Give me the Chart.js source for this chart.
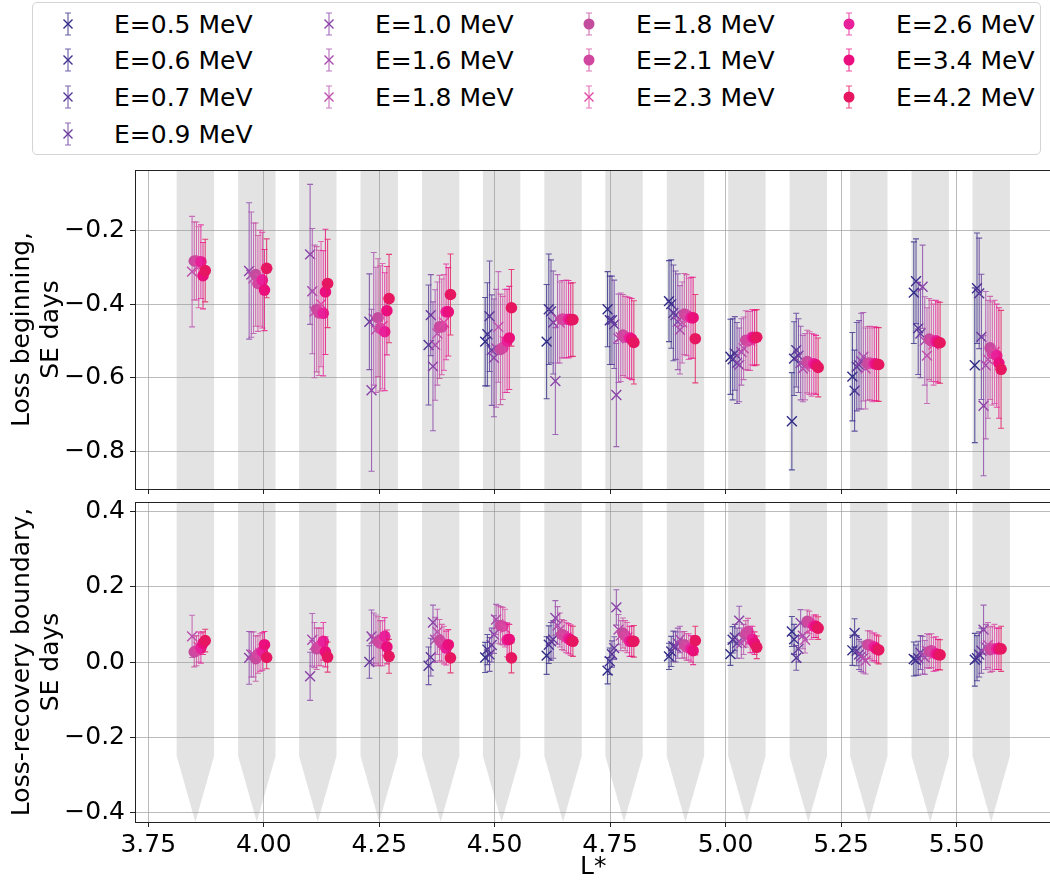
<!DOCTYPE html>
<html><head><meta charset="utf-8">
<script src="https://cdn.jsdelivr.net/npm/chart.js@4.4.1/dist/chart.umd.min.js"></script>
<style>
html,body{margin:0;padding:0;background:#fff;overflow:hidden;width:1050px;height:882px;}
#legend{position:absolute;left:32px;top:2px;width:1009px;height:153px;border:1px solid #d4d4d4;border-radius:5px;box-sizing:border-box;font-family:"DejaVu Sans";font-size:25px;color:#000;background:#fff;}
.lt{position:absolute;line-height:25px;white-space:nowrap;}
.lm{position:absolute;}
canvas{position:absolute;}
</style></head>
<body>
<div id="legend"></div>
<canvas id="cTop" width="1060" height="350" style="left:0;top:150px;"></canvas>
<canvas id="cBot" width="1060" height="392" style="left:0;top:490px;"></canvas>
<script>
const N = null;
// L* bin centres and tick labels
const lBins = [3.852, 3.985, 4.117, 4.25, 4.383, 4.515, 4.648, 4.78, 4.913, 5.046, 5.179, 5.31, 5.443, 5.575];
const xTickValues = [3.75, 4.00, 4.25, 4.50, 4.75, 5.00, 5.25, 5.50];
const xTickLabels = ['3.75', '4.00', '4.25', '4.50', '4.75', '5.00', '5.25', '5.50'];
const topTickValues = [-0.8, -0.6, -0.4, -0.2];
const topTickLabels = ['\u22120.8', '\u22120.6', '\u22120.4', '\u22120.2'];
const botTickValues = [-0.4, -0.2, 0.0, 0.2, 0.4];
const botTickLabels = ['\u22120.4', '\u22120.2', '0.0', '0.2', '0.4'];

// series
const seriesLabels = ['E=0.5 MeV','E=0.6 MeV','E=0.7 MeV','E=0.9 MeV','E=1.0 MeV','E=1.6 MeV','E=1.8 MeV','E=1.8 MeV','E=2.1 MeV','E=2.3 MeV','E=2.6 MeV','E=3.4 MeV','E=4.2 MeV'];
const seriesMarkers = ['x','x','x','x','x','x','x','o','o','x','o','o','o'];
const seriesColors = ['#2f2a86','#3f2f8f','#543596','#683a9e','#8a43a8','#a64aad','#bd4fae','#c44c9e','#d1479f','#de4aa6','#e8209a','#ea0e7f','#e61660'];
const seriesOffset = [-0.0356,-0.0308,-0.0261,-0.0213,-0.0166,-0.0119,-0.0071,-0.0024,0.0024,0.0071,0.0119,0.0166,0.0213];

// Loss beginning (SE days) and errors
const beginE05 = [N,N,N,N,N,-0.502,-0.502,-0.414,-0.392,-0.543,-0.718,-0.597,-0.369,-0.566];
const beginErrE05 = [N,N,N,N,N,0.12,0.155,0.102,0.11,0.102,0.132,0.12,0.138,0.21];
const beginE06 = [N,N,N,N,N,-0.482,-0.414,-0.444,-0.40,-0.55,-0.548,-0.635,-0.338,-0.357];
const beginErrE06 = [N,N,N,N,N,0.14,0.15,0.12,0.12,0.11,0.10,0.11,0.115,0.15];
const beginE07 = [N,N,N,N,-0.511,-0.433,-0.42,-0.444,-0.424,-0.534,-0.525,-0.57,-0.466,-0.371];
const beginErrE07 = [N,N,N,N,0.163,0.15,0.14,0.12,0.13,0.10,0.10,0.12,0.125,0.15];
const beginE09 = [N,N,N,-0.448,-0.43,-0.525,-0.45,-0.455,-0.43,-0.56,-0.54,-0.565,-0.48,-0.489];
const beginErrE09 = [N,N,N,0.13,0.11,0.15,0.14,0.12,0.12,0.11,0.10,0.12,0.12,0.17];
const beginE10 = [N,-0.31,-0.265,-0.634,-0.569,-0.546,-0.609,-0.647,-0.448,-0.565,-0.56,-0.555,-0.353,-0.676];
const beginErrE10 = [N,0.185,0.19,0.22,0.175,0.16,0.145,0.14,0.13,0.10,0.10,0.13,0.113,0.19];
const beginE16 = [N,-0.32,-0.365,-0.44,-0.511,-0.52,-0.44,-0.493,-0.47,-0.53,-0.575,-0.543,-0.50,-0.566];
const beginErrE16 = [N,0.17,0.17,0.18,0.15,0.16,0.12,0.12,0.12,0.09,0.09,0.12,0.12,0.2];
const beginE18x = [-0.312,-0.33,-0.42,-0.47,-0.48,-0.462,-0.45,-0.49,-0.45,-0.52,-0.57,-0.575,-0.54,-0.55];
const beginErrE18x = [0.15,0.15,0.18,0.17,0.14,0.15,0.11,0.12,0.11,0.085,0.09,0.11,0.13,0.16];
const beginE18 = [-0.283,-0.32,-0.414,-0.437,-0.462,-0.523,-0.441,-0.484,-0.427,-0.498,-0.556,-0.561,-0.495,-0.519];
const beginErrE18 = [0.106,0.14,0.17,0.16,0.14,0.15,0.105,0.11,0.11,0.08,0.085,0.1,0.11,0.14];
const beginE21 = [-0.283,-0.344,-0.424,-0.466,-0.462,-0.519,-0.441,-0.489,-0.43,-0.50,-0.56,-0.56,-0.50,-0.534];
const beginErrE21 = [0.106,0.13,0.17,0.17,0.13,0.14,0.105,0.11,0.11,0.08,0.085,0.1,0.11,0.14];
const beginE23 = [-0.30,-0.33,-0.40,-0.46,-0.45,-0.50,-0.44,-0.49,-0.44,-0.50,-0.565,-0.565,-0.51,-0.53];
const beginErrE23 = [0.11,0.13,0.17,0.17,0.13,0.14,0.105,0.11,0.11,0.08,0.085,0.1,0.11,0.14];
const beginE26 = [-0.285,-0.335,-0.425,-0.475,-0.421,-0.50,-0.441,-0.492,-0.437,-0.49,-0.562,-0.562,-0.50,-0.54];
const beginErrE26 = [0.10,0.13,0.17,0.16,0.13,0.14,0.105,0.11,0.11,0.075,0.08,0.1,0.11,0.14];
const beginE34 = [-0.323,-0.362,-0.367,-0.418,-0.421,-0.492,-0.443,-0.495,-0.437,-0.492,-0.565,-0.563,-0.504,-0.56];
const beginErrE34 = [0.09,0.11,0.17,0.12,0.12,0.14,0.1,0.11,0.11,0.075,0.08,0.1,0.11,0.15];
const beginE42 = [-0.309,-0.303,-0.344,-0.385,-0.374,-0.41,-0.442,-0.504,-0.494,-0.49,-0.572,-0.564,-0.505,-0.577];
const beginErrE42 = [0.085,0.08,0.12,0.12,0.11,0.104,0.1,0.113,0.12,0.075,0.08,0.1,0.11,0.16];

// Loss-recovery boundary (SE days) and errors
const boundE05 = [N,N,N,N,N,0.012,0.017,-0.023,0.015,0.021,0.081,0.031,0.008,0.006];
const boundErrE05 = [N,N,N,N,N,0.04,0.05,0.035,0.035,0.03,0.04,0.04,0.045,0.07];
const boundE06 = [N,N,N,N,N,0.033,0.046,0.002,0.028,0.059,0.06,0.077,0.005,0.01];
const boundErrE06 = [N,N,N,N,N,0.04,0.05,0.035,0.04,0.035,0.04,0.038,0.04,0.06];
const boundE07 = [N,N,N,N,-0.01,0.02,0.055,0.021,0.042,0.065,0.011,0.03,0.01,0.02];
const boundErrE07 = [N,N,N,N,0.05,0.045,0.05,0.035,0.04,0.035,0.033,0.04,0.045,0.06];
const boundE09 = [N,N,N,0.0,0.013,0.045,0.06,0.037,0.04,0.05,0.035,0.02,0.025,0.03];
const boundErrE09 = [N,N,N,0.043,0.05,0.045,0.05,0.03,0.04,0.04,0.035,0.04,0.045,0.06];
const boundE10 = [N,0.011,-0.038,0.068,0.105,0.073,0.117,0.145,0.05,0.11,0.104,0.015,0.018,0.086];
const boundErrE10 = [N,0.07,0.064,0.07,0.046,0.05,0.046,0.047,0.04,0.038,0.035,0.04,0.05,0.065];
const boundE16 = [N,0.02,0.059,0.06,0.059,0.113,0.097,0.086,0.06,0.05,0.07,0.011,0.012,0.04];
const boundErrE16 = [N,0.06,0.07,0.07,0.06,0.04,0.05,0.04,0.035,0.04,0.035,0.04,0.045,0.06];
const boundE18x = [0.068,0.02,0.045,0.06,0.08,0.1,0.085,0.07,0.045,0.06,0.059,0.003,0.03,0.045];
const boundErrE18x = [0.056,0.06,0.06,0.065,0.06,0.05,0.045,0.04,0.035,0.04,0.035,0.035,0.045,0.06];
const boundE18 = [0.027,0.009,0.035,0.055,0.058,0.097,0.073,0.077,0.046,0.075,0.108,0.046,0.028,0.033];
const boundErrE18 = [0.04,0.06,0.055,0.065,0.055,0.05,0.04,0.04,0.035,0.035,0.03,0.037,0.045,0.06];
const boundE21 = [0.03,0.02,0.04,0.05,0.05,0.095,0.07,0.07,0.04,0.081,0.105,0.045,0.03,0.035];
const boundErrE21 = [0.04,0.05,0.05,0.06,0.05,0.05,0.04,0.04,0.035,0.035,0.03,0.037,0.045,0.06];
const boundE23 = [0.04,0.025,0.04,0.05,0.045,0.09,0.065,0.065,0.04,0.06,0.09,0.04,0.02,0.04];
const boundErrE23 = [0.04,0.05,0.05,0.06,0.05,0.05,0.04,0.04,0.035,0.035,0.03,0.037,0.045,0.06];
const boundE26 = [0.037,0.028,0.055,0.068,0.037,0.059,0.062,0.055,0.035,0.06,0.095,0.04,0.022,0.035];
const boundErrE26 = [0.04,0.05,0.05,0.05,0.045,0.045,0.04,0.04,0.035,0.035,0.03,0.037,0.045,0.055];
const boundE34 = [0.05,0.046,0.027,0.04,0.046,0.06,0.058,0.055,0.03,0.05,0.095,0.035,0.02,0.035];
const boundErrE34 = [0.03,0.035,0.04,0.045,0.04,0.04,0.04,0.04,0.037,0.03,0.03,0.037,0.04,0.055];
const boundE42 = [0.057,0.012,0.013,0.015,0.011,0.011,0.055,0.055,0.057,0.039,0.09,0.032,0.019,0.035];
const boundErrE42 = [0.03,0.03,0.04,0.045,0.04,0.04,0.04,0.042,0.038,0.03,0.03,0.037,0.04,0.06];

const beginValues = [beginE05,beginE06,beginE07,beginE09,beginE10,beginE16,beginE18x,beginE18,beginE21,beginE23,beginE26,beginE34,beginE42];
const beginErrors = [beginErrE05,beginErrE06,beginErrE07,beginErrE09,beginErrE10,beginErrE16,beginErrE18x,beginErrE18,beginErrE21,beginErrE23,beginErrE26,beginErrE34,beginErrE42];
const boundValues = [boundE05,boundE06,boundE07,boundE09,boundE10,boundE16,boundE18x,boundE18,boundE21,boundE23,boundE26,boundE34,boundE42];
const boundErrors = [boundErrE05,boundErrE06,boundErrE07,boundErrE09,boundErrE10,boundErrE16,boundErrE18x,boundErrE18,boundErrE21,boundErrE23,boundErrE26,boundErrE34,boundErrE42];

// shaded L* bins
const bandHalfWidth = 0.0405;
const arrowStart = -0.25;
const arrowTip = -0.425;

function rgba(hex, a) {
  const n = parseInt(hex.slice(1), 16);
  return `rgba(${(n>>16)&255},${(n>>8)&255},${n&255},${a})`;
}

// ---- legend (HTML) ----
const legend = document.getElementById('legend');
const colCount = [4,3,3,3];
const colMarkX = [35, 296, 556, 816];
const colTextX = [81, 342, 603, 863];
const rowY = [20.5, 57.2, 93.8, 130.5];
let si = 0;
colCount.forEach((cnt, c) => {
  for (let r = 0; r < cnt; r++, si++) {
    const col = seriesColors[si];
    const bar = rgba(col, 0.75);
    const svgNS = 'http://www.w3.org/2000/svg';
    const svg = document.createElementNS(svgNS, 'svg');
    svg.setAttribute('width', '20'); svg.setAttribute('height', '30');
    svg.setAttribute('class', 'lm');
    svg.style.left = (colMarkX[c] - 10) + 'px';
    svg.style.top = (rowY[r] - 15) + 'px';
    let inner = `<path d="M10 4V26M7 4H13M7 26H13" stroke="${bar}" stroke-width="1.2" fill="none"/>`;
    if (seriesMarkers[si] === 'x') inner += `<path d="M5.5 10.5L14.5 19.5M14.5 10.5L5.5 19.5" stroke="${col}" stroke-width="1.4" fill="none"/>`;
    else inner += `<circle cx="10" cy="15" r="5.5" fill="${col}"/>`;
    svg.innerHTML = inner;
    legend.appendChild(svg);
    const t = document.createElement('div');
    t.className = 'lt';
    t.textContent = seriesLabels[si];
    t.style.left = colTextX[c] + 'px';
    t.style.top = (rowY[r] - 12) + 'px';
    legend.appendChild(t);
  }
});

// ---- Chart.js ----
Chart.defaults.font.family = 'DejaVu Sans';
Chart.defaults.font.size = 25;
Chart.defaults.color = '#000';

const bandPlugin = {
  id: 'bands',
  beforeDraw(chart, args, opts) {
    const {ctx, chartArea: {top, bottom}, scales: {x, y}} = chart;
    ctx.save();
    ctx.fillStyle = 'rgba(128,128,128,0.22)';
    lBins.forEach(L => {
      const xl = x.getPixelForValue(L - bandHalfWidth);
      const xr = x.getPixelForValue(L + bandHalfWidth);
      const xc = x.getPixelForValue(L);
      ctx.beginPath();
      if (opts.arrow) {
        const ya = y.getPixelForValue(arrowStart);
        const yt = y.getPixelForValue(arrowTip);
        ctx.moveTo(xl, top); ctx.lineTo(xr, top); ctx.lineTo(xr, ya);
        ctx.lineTo(xc, yt); ctx.lineTo(xl, ya);
      } else {
        ctx.rect(xl, top, xr - xl, bottom - top);
      }
      ctx.closePath();
      ctx.fill();
    });
    ctx.restore();
  }
};

const errorBarPlugin = {
  id: 'errorBars',
  beforeDatasetDraw(chart, args) {
    const ds = chart.data.datasets[args.index];
    const ys = chart.scales.y;
    const ctx = chart.ctx;
    const ca = chart.chartArea;
    ctx.save();
    ctx.beginPath(); ctx.rect(ca.left, ca.top, ca.right - ca.left, ca.bottom - ca.top); ctx.clip();
    ctx.strokeStyle = ds.barColor;
    ctx.lineWidth = 1.1;
    args.meta.data.forEach((pt, k) => {
      const d = ds.data[k];
      const x = pt.x;
      const y1 = ys.getPixelForValue(d.y - d.e);
      const y2 = ys.getPixelForValue(d.y + d.e);
      ctx.beginPath();
      ctx.moveTo(x, y1); ctx.lineTo(x, y2);
      ctx.moveTo(x - 3, y1); ctx.lineTo(x + 3, y1);
      ctx.moveTo(x - 3, y2); ctx.lineTo(x + 3, y2);
      ctx.stroke();
    });
    ctx.restore();
  }
};

const framePlugin = {
  id: 'frame',
  afterDraw(chart) {
    const {ctx, chartArea: ca} = chart;
    ctx.save();
    ctx.strokeStyle = '#222';
    ctx.lineWidth = 1;
    ctx.strokeRect(Math.round(ca.left) + 0.5, Math.round(ca.top) + 0.5, Math.round(ca.right - ca.left), Math.round(ca.bottom - ca.top));
    ctx.restore();
  }
};

function buildDatasets(values, errors) {
  return values.map((vals, i) => ({
    label: seriesLabels[i],
    data: lBins.map((L, j) => vals[j] === null ? null : {x: L + seriesOffset[i], y: vals[j], e: errors[i][j]}).filter(p => p !== null),
    showLine: false,
    pointStyle: seriesMarkers[i] === 'x' ? 'crossRot' : 'circle',
    pointRadius: seriesMarkers[i] === 'x' ? 7 : 5.8,
    pointHoverRadius: seriesMarkers[i] === 'x' ? 7 : 5.8,
    borderWidth: seriesMarkers[i] === 'x' ? 1.4 : 0,
    borderColor: seriesColors[i],
    backgroundColor: seriesColors[i],
    barColor: rgba(seriesColors[i], 0.78),
    order: values.length - 1 - i
  }));
}

const gridStyle = {color: 'rgba(150,150,150,0.65)', lineWidth: 1, tickColor: '#222', tickLength: 5, drawTicks: true};

function makeChart(id, values, errors, yMin, yMax, yTicks, yLabels, yTitle, bottom) {
  return new Chart(document.getElementById(id), {
    type: 'scatter',
    data: {datasets: buildDatasets(values, errors)},
    options: {
      responsive: false, animation: false, devicePixelRatio: 1,
      layout: {padding: {left: 0, right: 4, top: bottom ? 12 : 20, bottom: 0}},
      plugins: {legend: {display: false}, tooltip: {enabled: false}, bands: {arrow: bottom}},
      events: [],
      scales: {
        x: {
          type: 'linear', min: 3.7213, max: 5.7057,
          afterBuildTicks: s => { s.ticks = xTickValues.map(v => ({value: v})); },
          afterFit: s => { s.height = bottom ? 60 : 11; s.paddingLeft = 0; s.paddingRight = 0; },
          grid: gridStyle,
          border: {display: false},
          ticks: {display: bottom, padding: 3, maxRotation: 0, autoSkip: false, callback: (v, i) => xTickLabels[i]},
          title: {display: bottom, text: 'L*', padding: {top: 0, bottom: 0}, font: {size: 25, lineHeight: 1.2}}
        },
        y: {
          type: 'linear', min: yMin, max: yMax,
          afterBuildTicks: s => { s.ticks = yTicks.map(v => ({value: v})); },
          afterFit: s => { s.width = 135; s.paddingTop = 0; s.paddingBottom = 0; },
          grid: gridStyle,
          border: {display: false},
          ticks: {padding: 5, autoSkip: false, callback: (v, i) => yLabels[i]},
          title: {display: true, text: yTitle, padding: {top: 8, bottom: 0}, font: {size: 25, lineHeight: 1.16}}
        }
      }
    },
    plugins: [bandPlugin, errorBarPlugin, framePlugin]
  });
}

makeChart('cTop', beginValues, beginErrors, -0.902, -0.036, topTickValues, topTickLabels, ['Loss beginning,', 'SE days'], false);
makeChart('cBot', boundValues, boundErrors, -0.425, 0.425, botTickValues, botTickLabels, ['Loss-recovery boundary,', 'SE days'], true);
</script>
</body></html>
